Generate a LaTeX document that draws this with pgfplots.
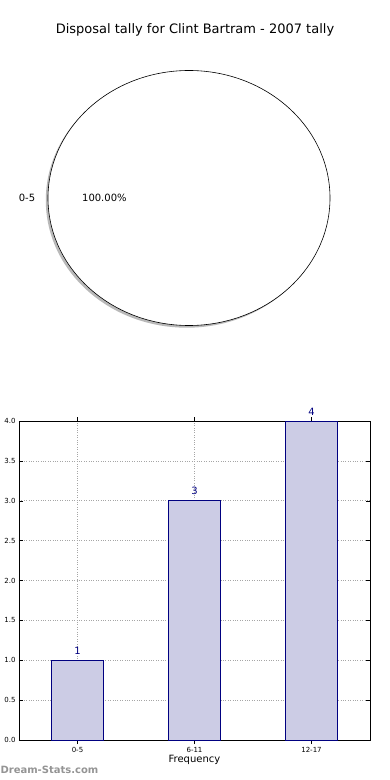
\documentclass[border=0pt]{standalone}
\usepackage{pgfplots}
\pgfplotsset{compat=1.18}
\usepackage{fontspec}
\setmainfont{DejaVu Sans}
\definecolor{barfill}{HTML}{CCCCE5}
\definecolor{navyc}{HTML}{000080}
\begin{document}
\begin{tikzpicture}
\useasboundingbox (0pt,0pt) rectangle (390pt,780pt);
\node[font=\fontsize{13}{15}\selectfont] at (195pt,750pt) {Disposal tally for Clint Bartram - 2007 tally};
% pie (single slice: 0-5 = 100%)
\begin{axis}[at={(48pt,454.5pt)}, anchor=south west, scale only axis, width=282pt, height=255pt,
  xmin=-1, xmax=1, ymin=-1, ymax=1, hide axis, clip=false]
\fill[gray!55] ([xshift=-2.2pt,yshift=-2.2pt]axis cs:0,0) ellipse [x radius=141pt, y radius=127.5pt];
\draw[black, fill=white, line width=0.6pt] (axis cs:0,0) ellipse [x radius=141pt, y radius=127.5pt];
\node[font=\fontsize{10}{12}\selectfont] at (axis cs:-1.149,0) {0-5};
\node[font=\fontsize{10}{12}\selectfont] at (axis cs:-0.6,0) {100.00\%};
\end{axis}
% bars
\begin{axis}[at={(19pt,40pt)}, anchor=south west, scale only axis, width=351pt, height=319pt,
  xmin=-0.5, xmax=2.5, ymin=0, ymax=4,
  xtick={0,1,2}, xticklabels={0-5,6-11,12-17},
  ytick={0,0.5,...,4},
  yticklabel style={/pgf/number format/.cd, fixed, fixed zerofill, precision=1},
  /pgf/number format/assume math mode=true,
  grid=major, grid style={dotted, gray!70, line width=0.6pt},
  tick align=inside, major tick length=4pt,
  tick style={black, line width=0.5pt},
  ticklabel style={font=\fontsize{7}{8}\selectfont},
  xlabel={Frequency}, xlabel style={font=\fontsize{10}{12}\selectfont, yshift=4pt},
  axis line style={line width=0.6pt},
  ybar, bar width=0.44,
  nodes near coords,
  nodes near coords style={font=\fontsize{10}{12}\selectfont, text=navyc, yshift=2pt}]
\addplot[fill=barfill, draw=navyc, line width=0.6pt] coordinates {(0,1) (1,3) (2,4)};
\end{axis}
\node[anchor=west, font=\bfseries\fontsize{10}{12}\selectfont, text=black!42] at (-3pt,10pt) {Dream-Stats.com};
\end{tikzpicture}
\end{document}
